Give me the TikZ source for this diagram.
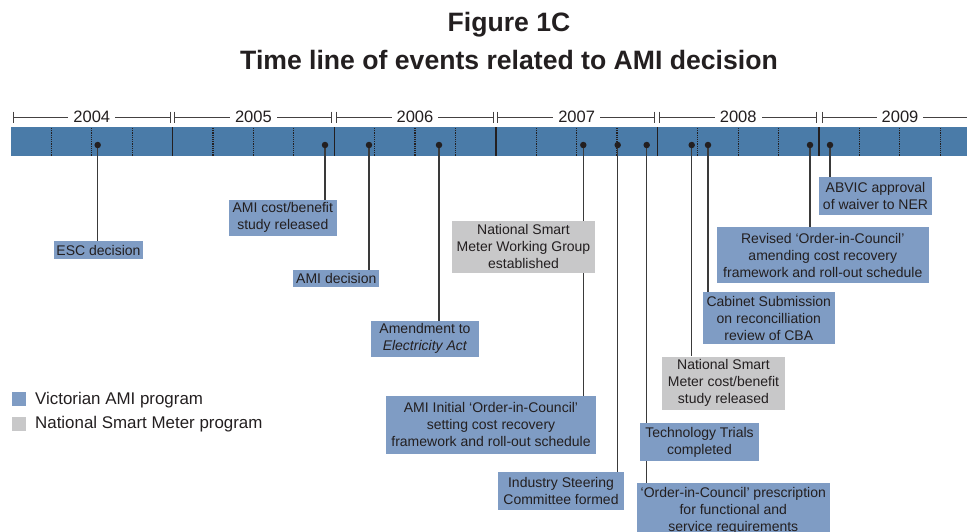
\documentclass[tikz,border=0pt]{standalone}
\usepackage{fontspec}
\setmainfont{Liberation Sans}
\pgfdeclarelayer{barlayer}
\pgfdeclarelayer{linelayer}
\pgfsetlayers{barlayer,linelayer,main}
\definecolor{barblue}{HTML}{4A7BA8}
\definecolor{boxblue}{HTML}{7F9CC4}
\definecolor{boxgray}{HTML}{C8C8C9}
\definecolor{ink}{HTML}{231F20}
\definecolor{stem}{HTML}{3A3A3A}
\begin{document}
\begin{tikzpicture}[x=1pt,y=-1pt,
  every node/.style={text=ink},
  evbox/.style={fill=boxblue, inner sep=0pt, align=center, font=\fontsize{14}{17}\selectfont},
  natbox/.style={evbox, fill=boxgray},
  evdot/.style={circle, fill=ink, inner sep=0pt, minimum size=6.5pt},
  stemline/.style={draw=stem, line width=1.3pt},
  bracket/.style={draw=ink!85, line width=1pt},
  yearlab/.style={fill=white, inner sep=5pt, font=\fontsize{16.5}{18}\selectfont},
  sepline/.style={draw=ink, line width=1.4pt},
  qline/.style={draw=ink, line width=1.1pt, dash pattern=on 1.1pt off 1.1pt},
  legsq/.style={inner sep=0pt, minimum width=14pt, minimum height=13.5pt},
  legtext/.style={anchor=west, inner sep=0pt, font=\fontsize{16.9}{19}\selectfont}]
\useasboundingbox (0,0) rectangle (967,531);
\clip (0,0) rectangle (967,531);
% title
\node[font=\bfseries\fontsize{26.6}{30}\selectfont] (t1) at (509,25) {Figure 1C};
\node[font=\bfseries\fontsize{26.6}{30}\selectfont] (t2) at (509,60) {Time line of events related to AMI decision};
% year brackets
\foreach \s/\yr in {11/2004,172.6/2005,334.2/2006,495.8/2007,657.4/2008}{
  \draw[bracket] (\s+2,111.7) -- (\s+2,123.3) (\s+2,117.5) -- (\s+159,117.5) (\s+159,111.7) -- (\s+159,123.3);
  \node[yearlab] at (\s+80.8,116.5) {\yr};
}
\draw[bracket] (822,111.7) -- (822,123.3) (822,117.5) -- (970,117.5);
\node[yearlab] at (900,116.5) {2009};
% bar
\begin{pgfonlayer}{barlayer}
\fill[barblue] (11,127) rectangle (967,156);
\foreach \s in {172.6,334.2,495.8,657.4,819}{
  \draw[sepline] (\s,127) -- (\s,156);
}
\foreach \s in {11,172.6,334.2,495.8,657.4,819}{
  \foreach \j in {1,2,3}{
    \draw[qline] (\s+40.4*\j,128) -- (\s+40.4*\j,156);
  }
}
\end{pgfonlayer}
% event dots
\node[evdot] (d1) at (97.7,145) {};
\node[evdot] (d2) at (325,145) {};
\node[evdot] (d3) at (369,145) {};
\node[evdot] (d4) at (439,145) {};
\node[evdot] (d5) at (583.3,145) {};
\node[evdot] (d6) at (617.7,145) {};
\node[evdot] (d7) at (646.7,145) {};
\node[evdot] (d8) at (691.7,145) {};
\node[evdot] (d9) at (708,145) {};
\node[evdot] (d10) at (810,145) {};
\node[evdot] (d11) at (830,145) {};
% boxes
\node[evbox, minimum width=89pt, minimum height=17.7pt] (b1) at (98.5,250) {ESC decision};
\node[evbox, minimum width=107.7pt, minimum height=35.7pt] (b2) at (282.8,217.8) {AMI cost/benefit\\study released};
\node[evbox, minimum width=86pt, minimum height=17pt] (b3) at (336.3,278.3) {AMI decision};
\node[evbox, minimum width=108pt, minimum height=35.7pt] (b4) at (425,338.8) {Amendment to\\\textit{Electricity Act}};
\node[natbox, minimum width=143pt, minimum height=51.7pt] (b5) at (523.5,246.8) {National Smart\\Meter Working Group\\established};
\node[evbox, minimum width=210pt, minimum height=57.7pt] (b6) at (491,424.8) {AMI Initial ‘Order-in-Council’\\setting cost recovery\\framework and roll-out schedule};
\node[evbox, minimum width=126pt, minimum height=37.7pt] (b7) at (561,490.8) {Industry Steering\\Committee formed};
\node[evbox, minimum width=119pt, minimum height=37.3pt] (b8) at (699.5,442) {Technology Trials\\completed};
\node[evbox, minimum width=193.3pt, minimum height=56pt, anchor=north] (b9) at (733.3,482.7) {‘Order-in-Council’ prescription\\for functional and\\service requirements};
\node[natbox, minimum width=123pt, minimum height=53.3pt] (b10) at (723.5,383.3) {National Smart\\Meter cost/benefit\\study released};
\node[evbox, minimum width=132.3pt, minimum height=51.4pt] (b11) at (768.8,318) {Cabinet Submission\\on reconcilliation\\review of CBA};
\node[evbox, minimum width=212.3pt, minimum height=55.4pt] (b12) at (822.8,255) {Revised ‘Order-in-Council’\\amending cost recovery\\framework and roll-out schedule};
\node[evbox, minimum width=113pt, minimum height=38pt] (b13) at (875.5,195.7) {ABVIC approval\\of waiver to NER};
% stems
\begin{pgfonlayer}{linelayer}
\draw[stemline] (d1.center) -- (d1.center |- b1.north);
\draw[stemline] (d2.center) -- (d2.center |- b2.north);
\draw[stemline] (d3.center) -- (d3.center |- b3.north);
\draw[stemline] (d4.center) -- (d4.center |- b4.north);
\draw[stemline] (d5.center) -- (d5.center |- b6.north);
\draw[stemline] (d6.center) -- (d6.center |- b7.north);
\draw[stemline] (d7.center) -- (d7.center |- b9.north);
\draw[stemline] (d8.center) -- (d8.center |- b10.north);
\draw[stemline] (d9.center) -- (d9.center |- b11.north);
\draw[stemline] (d10.center) -- (d10.center |- b12.north);
\draw[stemline] (d11.center) -- (d11.center |- b13.north);
\end{pgfonlayer}
% legend
\node[legsq, fill=boxblue] (l1) at (19,399) {};
\node[legtext] (lt1) at (35,400) {Victorian AMI program};
\node[legsq, fill=boxgray] (l2) at (19,424) {};
\node[legtext] (lt2) at (35,424) {National Smart Meter program};
\end{tikzpicture}
\end{document}
